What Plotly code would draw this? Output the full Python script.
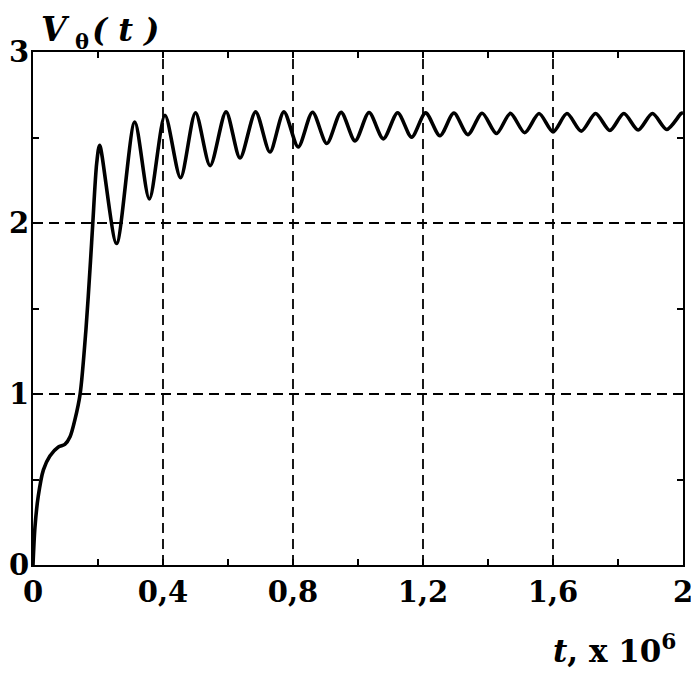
import plotly.graph_objects as go

# Rising section (t in units of 1e6)
t_rise = [0.0, 0.006, 0.016, 0.032, 0.052, 0.078, 0.098, 0.114, 0.129, 0.145, 0.163, 0.177, 0.184, 0.196]
v_rise = [0.0, 0.22, 0.40, 0.556, 0.637, 0.69, 0.705, 0.75, 0.85, 1.0, 1.38, 1.78, 2.0, 2.35]

# Oscillation extrema (peaks and troughs)
t_peaks = [0.205, 0.313, 0.406, 0.500, 0.594, 0.685, 0.772, 0.860, 0.948, 1.034, 1.122,
           1.208, 1.295, 1.382, 1.469, 1.557, 1.643, 1.731, 1.818, 1.906, 1.994]
v_peaks = [2.455, 2.59, 2.63, 2.645, 2.65, 2.65, 2.65, 2.648, 2.647, 2.646, 2.645,
           2.644, 2.643, 2.642, 2.641, 2.64, 2.64, 2.64, 2.64, 2.64, 2.64]
t_troughs = [0.257, 0.358, 0.454, 0.545, 0.637, 0.729, 0.816, 0.904, 0.991, 1.078,
             1.165, 1.252, 1.338, 1.426, 1.513, 1.600, 1.687, 1.775, 1.862, 1.950]
v_troughs = [1.88, 2.14, 2.265, 2.335, 2.38, 2.415, 2.445, 2.465, 2.48, 2.492,
             2.502, 2.51, 2.517, 2.523, 2.528, 2.533, 2.537, 2.541, 2.544, 2.547]
t_end = [2.0]
v_end = [2.645]

# merge extrema in time order
osc = sorted(list(zip(t_peaks, v_peaks)) + list(zip(t_troughs, v_troughs)))
t_all = t_rise + [p[0] for p in osc] + t_end
v_all = v_rise + [p[1] for p in osc] + v_end

x_tickvals = [0, 0.2, 0.4, 0.6, 0.8, 1.0, 1.2, 1.4, 1.6, 1.8, 2.0]
x_ticktext = ["0", "", "0,4", "", "0,8", "", "1,2", "", "1,6", "", "2"]
y_tickvals = [0, 0.5, 1, 1.5, 2, 2.5, 3]
y_ticktext = ["0", "", "1", "", "2", "", "3"]
x_grid = [0.4, 0.8, 1.2, 1.6]
y_grid = [1, 2]

FONT = "DejaVu Serif"

fig = go.Figure()
fig.add_trace(go.Scatter(x=t_all, y=v_all, mode="lines",
                         line=dict(color="black", width=3.6, shape="spline", smoothing=0.8),
                         hoverinfo="skip", showlegend=False))

for xv in x_grid:
    fig.add_shape(type="line", xref="x", yref="y", x0=xv, x1=xv, y0=0, y1=3,
                  line=dict(color="black", width=1.8, dash="10px,6px"), layer="below")
for yv in y_grid:
    fig.add_shape(type="line", xref="x", yref="y", x0=0, x1=2, y0=yv, y1=yv,
                  line=dict(color="black", width=1.8, dash="10px,6px"), layer="below")

fig.update_layout(
    width=691, height=666,
    margin=dict(l=25, r=16, t=44, b=109),
    paper_bgcolor="white", plot_bgcolor="white",
    font=dict(family=FONT, color="black", size=28),
    xaxis=dict(range=[0, 2], tickvals=x_tickvals, ticktext=x_ticktext,
               ticks="inside", ticklen=6, tickwidth=2, tickcolor="black",
               showline=True, linecolor="black", linewidth=2, mirror="ticks",
               showgrid=False, zeroline=False, automargin=False,
               tickfont=dict(family=FONT, size=29, color="black", weight="bold")),
    yaxis=dict(range=[0, 3], tickvals=y_tickvals, ticktext=y_ticktext,
               ticks="inside", ticklen=6, tickwidth=2, tickcolor="black",
               showline=True, linecolor="black", linewidth=2, mirror="ticks",
               showgrid=False, zeroline=False, automargin=False,
               ticklabelstandoff=-4,
               tickfont=dict(family=FONT, size=29, color="black", weight="bold")),
    annotations=[
        dict(text="<b><i>V</i></b>", xref="paper", yref="paper",
             x=0.009, y=1.043, xanchor="left", yanchor="middle", showarrow=False,
             font=dict(family=FONT, size=33, color="black")),
        dict(text="<b>θ</b>", xref="paper", yref="paper",
             x=0.062, y=1.020, xanchor="left", yanchor="middle", showarrow=False,
             font=dict(family=FONT, size=21, color="black")),
        dict(text="<b><i>( t )</i></b>", xref="paper", yref="paper",
             x=0.087, y=1.043, xanchor="left", yanchor="middle", showarrow=False,
             font=dict(family=FONT, size=32, color="black")),
        dict(text="<b><i>t</i>, x 10<sup>6</sup></b>", xref="paper", yref="paper",
             x=0.993, y=-0.163, xanchor="right", yanchor="middle", showarrow=False,
             font=dict(family=FONT, size=31, color="black")),
    ],
)

fig.write_html("out.html")
